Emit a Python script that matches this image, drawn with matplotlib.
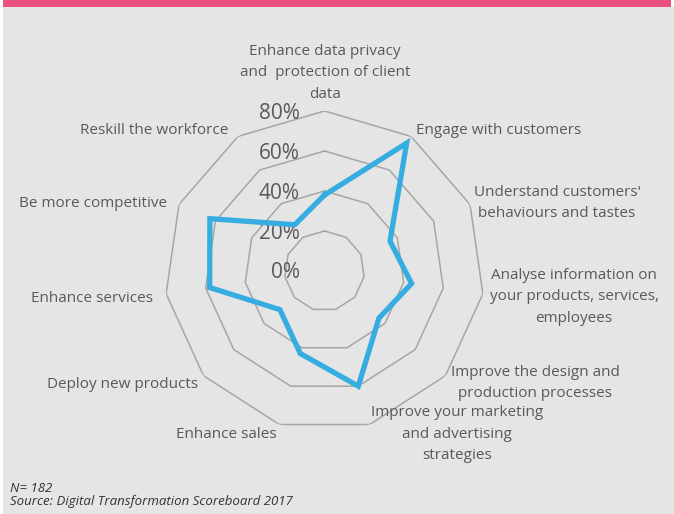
import numpy as np
import matplotlib.pyplot as plt
import matplotlib.transforms as mtransforms
from matplotlib.patches import Rectangle

# categories clockwise from the top
categories = [
    'Enhance data privacy\nand  protection of client\ndata',
    'Engage with customers',
    "Understand customers'\nbehaviours and tastes",
    'Analyse information on\nyour products, services,\nemployees',
    'Improve the design and\nproduction processes',
    'Improve your marketing\nand advertising\nstrategies',
    'Enhance sales',
    'Deploy new products',
    'Enhance services',
    'Be more competitive',
    'Reskill the workforce',
]
values = [38, 76, 36, 44, 36, 60, 43, 29.5, 58, 63, 27.5]
rings = [20, 40, 60, 80]
tick_values = [0, 20, 40, 60, 80]
tick_labels = ['0%', '20%', '40%', '60%', '80%']

# label anchors in pixels (x, y from top) and alignment
label_pos = [
    (325, 73, 'center'), (416, 131, 'left'), (557, 203, 'center'),
    (574, 297, 'center'), (535, 383, 'center'), (457, 434, 'center'),
    (226, 435, 'center'), (123, 384, 'center'), (92, 298, 'center'),
    (93, 204, 'center'), (228, 131, 'right'),
]

W, H = 674, 514
TEXT = '#595959'
GRID = '#a6a6a6'
BLUE = '#36ade0'
FONT = 'Open Sans'

fig = plt.figure(figsize=(W / 100, H / 100), dpi=100, facecolor='white')
fig.patches.append(Rectangle((3 / W, 0), 1, (H - 7) / H, transform=fig.transFigure,
                             facecolor='#e5e5e5', edgecolor='none', zorder=-2))
fig.patches.append(Rectangle((3 / W, (H - 7) / H), 668 / W, 7 / H, transform=fig.transFigure,
                             facecolor='#e9527f', edgecolor='none', zorder=-2))

cx, cy, rad = 324.5, 271, 160
ax = fig.add_axes([(cx - rad) / W, (H - cy - rad) / H, 2 * rad / W, 2 * rad / H],
                  projection='polar')
ax.set_theta_zero_location('N')
ax.set_theta_direction(-1)
ax.set_ylim(0, 80)
ax.set_facecolor('none')
ax.grid(False)
ax.spines['polar'].set_visible(False)
ax.set_xticks([])
ax.set_yticks([])

n = len(categories)
angles = np.linspace(0, 2 * np.pi, n, endpoint=False)
closed = np.append(angles, angles[0])

for r in rings:
    ax.plot(closed, [r] * (n + 1), color=GRID, lw=1.1, zorder=1)

ax.plot(closed, values + values[:1], color=BLUE, lw=3.8, zorder=3,
        solid_joinstyle='miter')

offs = mtransforms.offset_copy(ax.transData, fig=fig, x=-25, y=-2, units='dots')
for v, t in zip(tick_values, tick_labels):
    ax.text(0, v, t, transform=offs, ha='right', va='center', fontsize=15,
            color=TEXT, family=FONT, zorder=2)

for lab, (x, y, ha) in zip(categories, label_pos):
    fig.text(x / W, 1 - y / H, lab, ha=ha, va='center', multialignment='center',
             fontsize=11, color=TEXT, family=FONT, linespacing=1.55)

fig.text(10 / W, 1 - 488 / H, 'N= 182', ha='left', va='center', fontsize=9.5,
         style='italic', color='#333333', family=FONT)
fig.text(10 / W, 1 - 502 / H, 'Source: Digital Transformation Scoreboard 2017',
         ha='left', va='center', fontsize=9.5, style='italic', color='#333333', family=FONT)

fig.savefig('out.png', dpi=100, facecolor=fig.get_facecolor())
